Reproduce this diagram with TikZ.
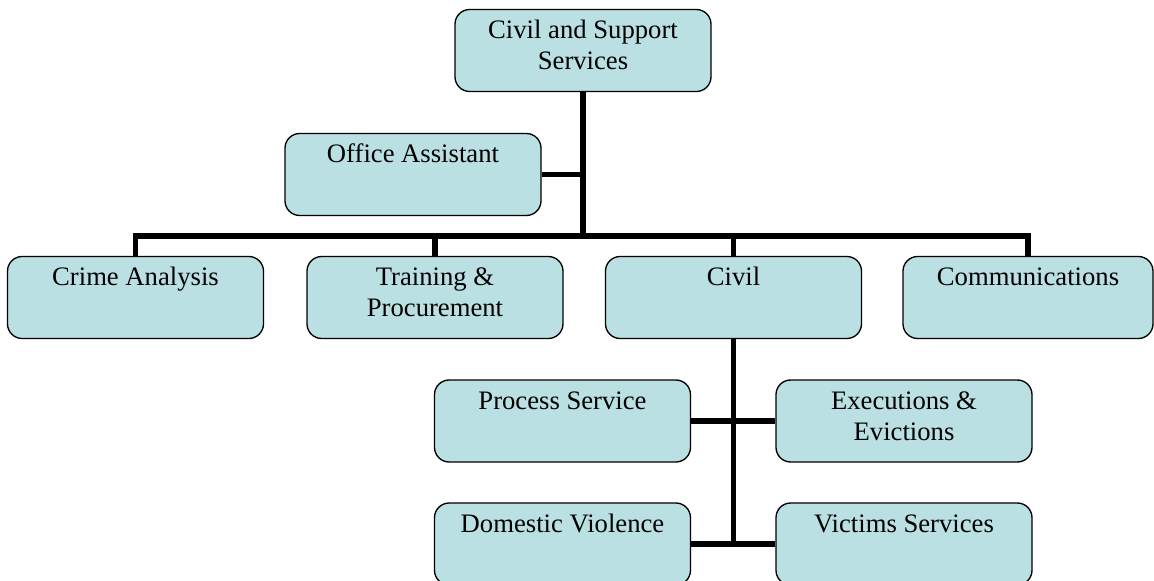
\documentclass[tikz,border=0pt]{standalone}
\usepackage{fontspec}
\setmainfont{Liberation Serif}
\definecolor{boxfill}{RGB}{186,224,227}
\newcommand{\boxtxt}[2][192pt]{\parbox[c][61.5pt][t]{#1}{\centering\rule{0pt}{22pt}#2}}
\begin{document}
\begin{tikzpicture}[x=0.75pt,y=-0.75pt,
  box/.style={draw=black, line width=1pt, fill=boxfill, rounded corners=11pt,
    inner sep=0pt, minimum width=192pt, minimum height=61.5pt,
    font=\fontsize{20}{23}\selectfont},
  conn/.style={draw=black, line width=3.8pt, line join=miter}]
\useasboundingbox (0,0) rectangle (1154,581);
\node[box] (top) at (583,50.5) {\boxtxt{Civil and Support\\Services}};
\node[box] (office) at (413,174.5) {\boxtxt{Office Assistant}};
\node[box] (crime) at (135.5,297.5) {\boxtxt{Crime Analysis}};
\node[box] (train) at (435,297.5) {\boxtxt{Training \&\\Procurement}};
\node[box] (civil) at (733.5,297.5) {\boxtxt{Civil}};
\node[box, minimum width=187.5pt] (comm) at (1028,297.5) {\boxtxt[187.5pt]{Communications}};
\node[box] (proc) at (562.5,421) {\boxtxt{Process Service}};
\node[box] (exec) at (904,421) {\boxtxt{Executions \&\\Evictions}};
\node[box] (dom) at (562.5,544) {\boxtxt{Domestic Violence}};
\node[box] (vict) at (904,544) {\boxtxt{Victims Services}};
\coordinate (hub) at (583,236);
\draw[conn] (top.south) -- (hub);
\draw[conn] (office.east) -- (office.east -| hub);
\draw[conn] (crime.north) |- (hub) -| (comm.north);
\draw[conn] (train.north) -- (train.north |- hub);
\draw[conn] (civil.north) -- (civil.north |- hub);
\draw[conn] (civil.south) -- (civil.south |- dom.east);
\draw[conn] (proc.east) -- (exec.west);
\draw[conn] (dom.east) -- (vict.west);
\end{tikzpicture}
\end{document}
